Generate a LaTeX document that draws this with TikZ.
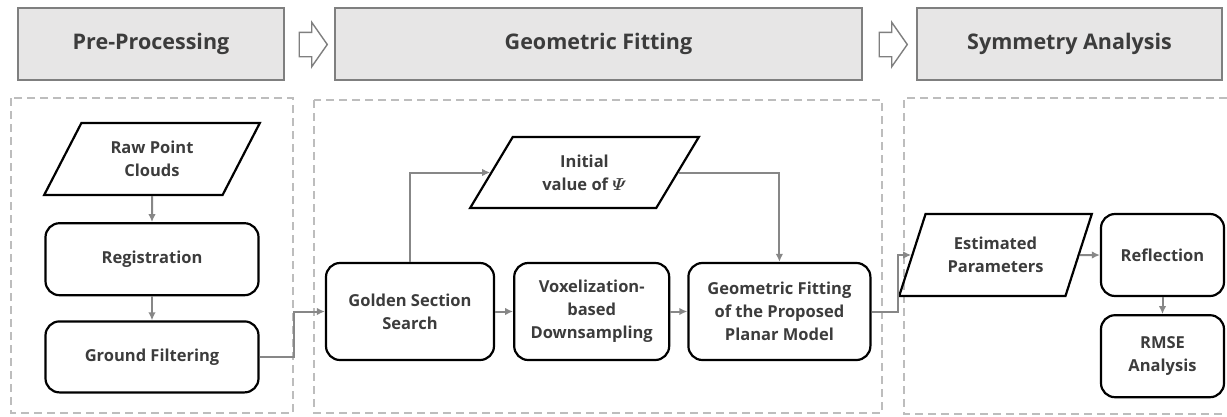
\documentclass[tikz,border=0pt]{standalone}
\usepackage{amsmath}
\usepackage{fontspec}
\setmainfont{Open Sans}
\usetikzlibrary{positioning,shapes.geometric,shapes.arrows,arrows.meta}

\definecolor{txtgray}{HTML}{3C3C3C}
\definecolor{hdrfill}{HTML}{E7E6E6}
\definecolor{hdrline}{HTML}{7F7F7F}
\definecolor{dashline}{HTML}{BDBDBD}
\definecolor{flowline}{HTML}{878787}

\newcommand{\boxfont}{\fontsize{16.5}{23}\selectfont\bfseries}

\tikzset{
  header/.style={draw=hdrline, line width=2pt, fill=hdrfill, minimum height=72pt,
    font=\fontsize{21.5}{26}\selectfont\bfseries, text=txtgray},
  phase/.style={single arrow, draw=hdrline, fill=white, line width=1.4pt,
    inner xsep=0pt, inner ysep=11.5pt, minimum height=28pt,
    single arrow head extend=10pt, single arrow tip angle=110},
  stepbox/.style={draw, line width=2.2pt, rounded corners=14pt, align=center,
    font=\boxfont, text=txtgray, inner sep=2pt},
  dataio/.style={trapezium, trapezium stretches=true, draw, line width=2.2pt,
    align=center, font=\boxfont, text=txtgray, inner sep=2pt},
  flow/.style={draw=flowline, line width=2pt, -{Latex[length=8pt,width=7.5pt]}},
  region/.style={draw=dashline, line width=1.6pt, dash pattern=on 8pt off 5pt},
}

\begin{document}
\begin{tikzpicture}[x=1pt, y=-1pt]
    \useasboundingbox (0,0) rectangle (1227,416);

    \node[header, minimum width=266pt] (hpre) at (151,44) {Pre-Processing};
    \node[header, minimum width=527pt] (hgeo) at (598.5,44) {Geometric Fitting};
    \node[header, minimum width=305pt] (hsym) at (1069.5,44) {Symmetry Analysis};
    \node[phase] (a1) at (309,44.5) {};
    \node[phase] (a2) at (889,44.5) {};

    \draw[region] (11,98) rectangle (293,413);
    \draw[region] (314,100) rectangle (882,413);
    \draw[region] (1227,98) -- (904,98) -- (904,414) -- (1227,414);

    \node[dataio, trapezium left angle=60, trapezium right angle=120,
          minimum width=216pt, minimum height=72pt] (raw) at (152,159) {Raw Point\\Clouds};
    \node[stepbox, minimum width=213pt, minimum height=72pt, below=26pt of raw] (reg) {Registration};
    \node[stepbox, minimum width=213pt, minimum height=71pt, below=24pt of reg] (gf) {Ground Filtering};

    \node[stepbox, minimum width=168pt, minimum height=97pt] (gss) at (410,311.5) {Golden Section\\Search};
    \node[stepbox, minimum width=155pt, minimum height=97pt, right=18pt of gss] (vox) {Voxelization-\\based\\Downsampling};
    \node[stepbox, minimum width=182pt, minimum height=97pt, right=17pt of vox] (fit) {Geometric Fitting\\of the Proposed\\Planar Model};
    \node[dataio, trapezium left angle=56.5, trapezium right angle=123.5,
          minimum width=229pt, minimum height=71pt] (ini) at (584.5,172.5) {Initial\\value of $\boldsymbol{\varPsi}$};

    \node[dataio, trapezium left angle=64.6, trapezium right angle=115.4,
          minimum width=193pt, minimum height=82pt] (est) at (995.5,255) {Estimated\\Parameters};
    \node[stepbox, minimum width=123pt, minimum height=82pt] (refl) at (1162.5,255) {Reflection};
    \node[stepbox, minimum width=123pt, minimum height=82pt, below=17pt of refl] (rmse) {RMSE\\Analysis};

    \draw[flow] (raw) -- (reg);
    \draw[flow] (reg) -- (gf);
    \draw[flow] (gf.east) -- ++(34,0) |- (gss.west);
    \draw[flow] (gss.north) |- (ini.west);
    \draw[flow] (ini.east) -| (fit.north);
    \draw[flow] (gss) -- (vox);
    \draw[flow] (vox) -- (fit);
    \draw[flow] (fit.east) -- ++(26,0) |- (est.west);
    \draw[flow] (est) -- (refl);
    \draw[flow] (refl) -- (rmse);
\end{tikzpicture}
\end{document}
